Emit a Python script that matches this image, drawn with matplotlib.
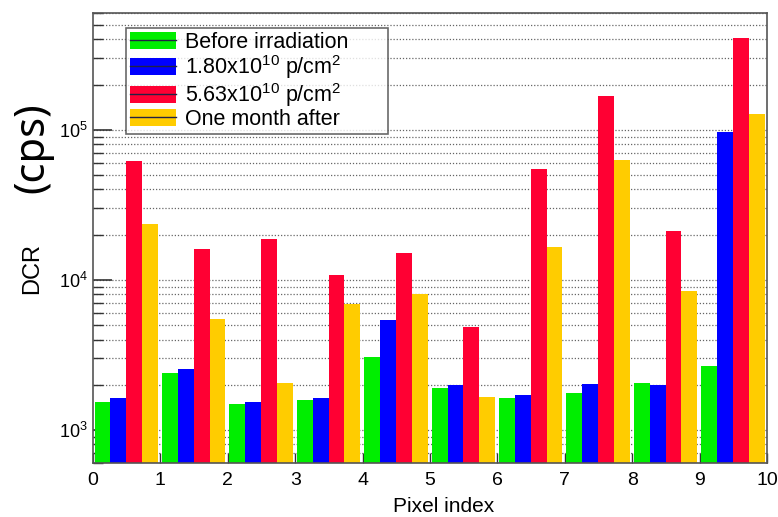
import matplotlib.pyplot as plt
import numpy as np
from matplotlib.patches import Patch
from matplotlib.lines import Line2D
from matplotlib.ticker import LogLocator, NullFormatter

plt.rcParams['font.family'] = ['Liberation Sans', 'DejaVu Sans']
plt.rcParams['mathtext.fontset'] = 'custom'
plt.rcParams['mathtext.rm'] = 'Liberation Sans'

pixels = np.arange(10)
before = [1530, 2390, 1480, 1590, 3070, 1915, 1620, 1770, 2060, 2660]
dose1 = [1630, 2560, 1530, 1630, 5390, 1990, 1720, 2030, 1990, 96500]
dose2 = [61500, 16100, 18600, 10800, 15200, 4840, 55000, 167000, 21200, 406000]
month_after = [23500, 5500, 2060, 6950, 8020, 1650, 16600, 62500, 8490, 127000]

labels = ['Before irradiation', r'1.80x10$^{10}$ p/cm$^2$',
          r'5.63x10$^{10}$ p/cm$^2$', 'One month after']
colors = ['#00ee00', '#0000ff', '#ff0033', '#ffcc00']

fig = plt.figure(figsize=(7.78, 5.17), dpi=100)
ax = fig.add_axes([0.1195, 0.104, 0.8664, 0.871])
ax.set_yscale('log')

w = 0.235
for k, (vals, c) in enumerate(zip([before, dose1, dose2, month_after], colors)):
    ax.bar(pixels + 0.025 + k * w, vals, width=w, align='edge', color=c, zorder=2)

ax.set_ylim(600, 6e5)
ax.set_xlim(0, 10)
ax.set_xticks(range(11))
ax.yaxis.set_major_locator(LogLocator(base=10, subs=[1.0], numticks=10))
ax.yaxis.set_minor_locator(LogLocator(base=10, subs=np.arange(2, 10), numticks=20))
ax.yaxis.set_minor_formatter(NullFormatter())
ax.grid(True, which='both', axis='y', linestyle=(0, (1, 1.5)), color='#666666',
        linewidth=0.9, zorder=1)
ax.tick_params(axis='y', which='major', direction='in', length=14, width=1.2,
               labelsize=13, color='#333333')
ax.tick_params(axis='y', which='minor', direction='in', length=7, width=1,
               color='#333333')
ax.tick_params(axis='x', which='major', direction='in', length=7, width=1,
               labelsize=14, pad=6, color='#333333')
for s in ax.spines.values():
    s.set_color('#555555')
    s.set_linewidth(1.2)

ax.set_xlabel('Pixel index', fontsize=15)
ax.xaxis.set_label_coords(0.52, -0.075)
fig.text(0.041, 0.48, 'DCR', rotation=90, fontsize=17, ha='center', va='center')
fig.text(0.042, 0.714, '(cps)', rotation=90, fontsize=30, ha='center', va='center',
         family=['Noto Sans', 'DejaVu Sans'])

# legend box spans a fixed width in axes coordinates
handles = [(Patch(facecolor=c, edgecolor='none'), Line2D([], [], color='#222244', lw=1))
           for c in colors]
leg = ax.legend(handles, labels, loc='upper left',
                bbox_to_anchor=(0.049, 0.731, 0.389, 0.236), mode='expand',
                fontsize=15.5, frameon=True, fancybox=False, handlelength=2.1,
                handleheight=0.85, borderpad=0.2, labelspacing=0.0,
                handletextpad=0.45, borderaxespad=0)
leg.get_frame().set_edgecolor('#444444')
leg.get_frame().set_linewidth(1.2)
leg.set_zorder(5)

plt.savefig('out.png', dpi=100)
plt.close()
